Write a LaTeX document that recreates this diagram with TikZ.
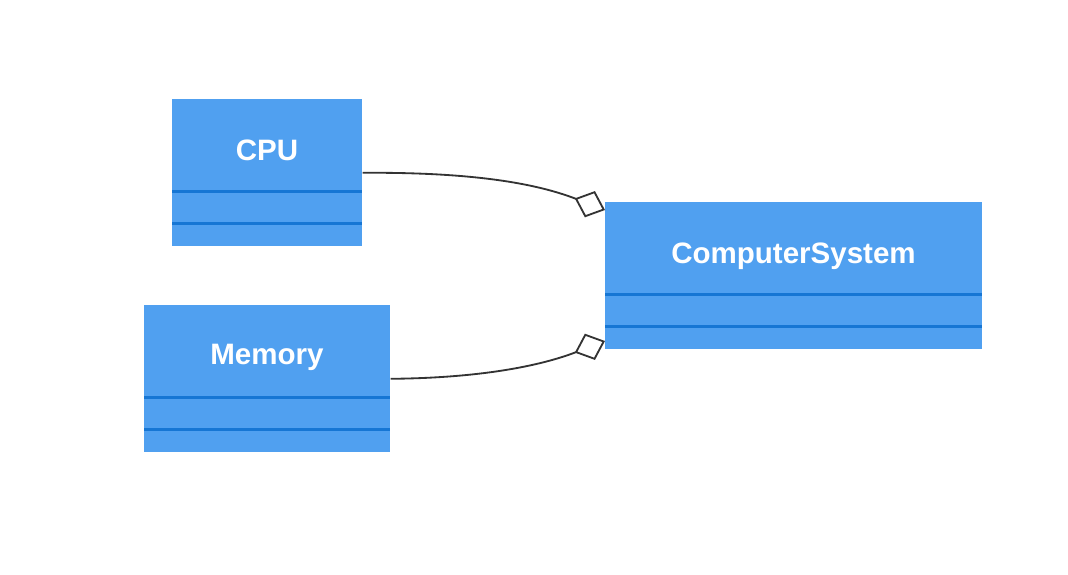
\documentclass[tikz,border=0pt]{standalone}
\usepackage{fontspec}
\setmainfont{Liberation Sans}
\usetikzlibrary{arrows.meta}
\definecolor{classfill}{RGB}{80, 160, 240}
\definecolor{classline}{RGB}{22, 118, 212}
\definecolor{linkcol}{RGB}{51, 51, 51}
\tikzset{
  classbox/.style={fill=classfill, draw=none, inner sep=0pt, anchor=north west},
  classname/.style={text=white, font=\bfseries\fontsize{21}{25}\selectfont},
  sepline/.style={classline, line width=1.6pt},
  aggr/.style={linkcol, line width=1.3pt, -{Diamond[open, length=23pt, width=20pt, line width=1.3pt]}}
}
\begin{document}
\begin{tikzpicture}[x=0.025cm, y=-0.025cm]
			\useasboundingbox (0,0) rectangle (1068,574);

			% CPU class: name row plus two empty rows
			\node[classbox, minimum width=4.75cm, minimum height=3.675cm] (cpu) at (172,99) {};
			\node[classname] (cpuname) at (267,150) {CPU};
			\draw[sepline] (172,191.5) -- (362,191.5);
			\draw[sepline] (172,223.5) -- (362,223.5);

			% Memory class
			\node[classbox, minimum width=6.15cm, minimum height=3.675cm] (mem) at (144,305) {};
			\node[classname] (memname) at (267,357) {Memory};
			\draw[sepline] (144,397.5) -- (390,397.5);
			\draw[sepline] (144,429.5) -- (390,429.5);

			% ComputerSystem class
			\node[classbox, minimum width=9.425cm, minimum height=3.675cm] (sys) at (605,202) {};
			\node[classname] (sysname) at (793.5,256) {ComputerSystem};
			\draw[sepline] (605,294.5) -- (982,294.5);
			\draw[sepline] (605,326.5) -- (982,326.5);

			% aggregation ends on the whole
			\coordinate (cpuend) at (605,210);
			\coordinate (memend) at (605,341);

			\draw[aggr] (cpu.east) .. controls (480,172) and (540,185) .. (cpuend);
			\draw[aggr] (mem.east) .. controls (480,378) and (540,366) .. (memend);

		\end{tikzpicture}
\end{document}
